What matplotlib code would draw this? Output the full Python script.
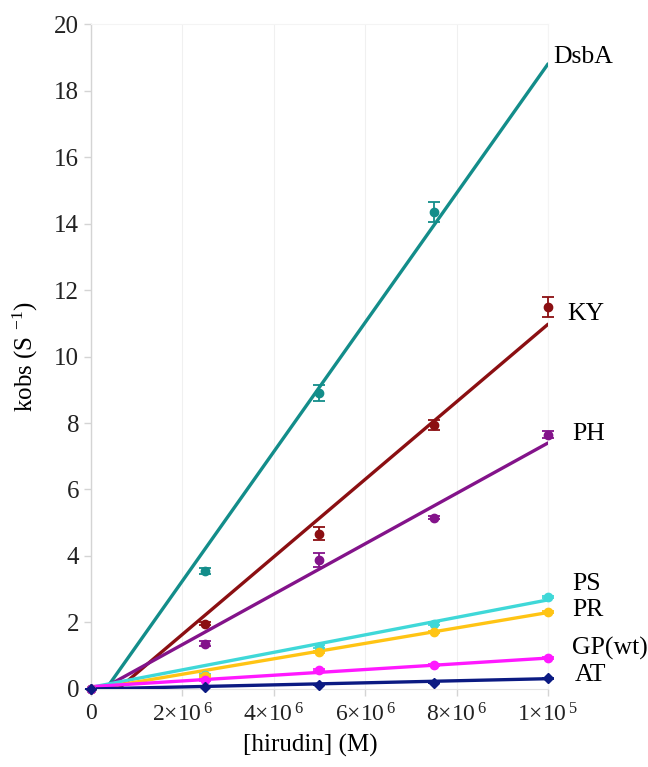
import numpy as np
import matplotlib
matplotlib.use("Agg")
import matplotlib.pyplot as plt

plt.rcParams['font.family'] = ['Liberation Serif', 'DejaVu Serif']
plt.rcParams['mathtext.default'] = 'regular'

# hirudin concentration (M)
conc = [0, 2.5e-6, 5e-6, 7.5e-6, 1e-5]

names = ['DsbA', 'KY', 'PH', 'PS', 'PR', 'GP(wt)', 'AT']
colors = ['#138d8a', '#8b0f12', '#83138a', '#3fd8d8', '#ffc414', '#ff19ff', '#0b1a82']
markers = ['o', 'o', 'o', 'o', 'o', 'o', 'D']

kobs = {
    'DsbA': [0, 3.55, 8.9, 14.35],
    'KY': [0, 1.96, 4.67, 7.95, 11.5],
    'PH': [0, 1.36, 3.88, 5.15, 7.65],
    'PS': [0, 0.42, 1.27, 1.96, 2.77],
    'PR': [0, 0.38, 1.10, 1.72, 2.32],
    'GP(wt)': [0, 0.27, 0.57, 0.72, 0.93],
    'AT': [0, 0.06, 0.12, 0.18, 0.32],
}
kobs_err = {
    'DsbA': [0, 0.08, 0.25, 0.3],
    'KY': [0, 0.05, 0.2, 0.15, 0.3],
    'PH': [0, 0.08, 0.2, 0.05, 0.1],
    'PS': [0, 0.03, 0.04, 0.04, 0.04],
    'PR': [0, 0.03, 0.03, 0.03, 0.03],
    'GP(wt)': [0, 0.02, 0.03, 0.03, 0.03],
    'AT': [0, 0.01, 0.01, 0.01, 0.01],
}
# linear fits: kobs = slope * [hirudin] + intercept
slopes = [1.944e6, 1.166e6, 0.758e6, 0.263e6, 0.232e6, 0.086e6, 0.031e6]
intercepts = [-0.64, -0.69, -0.18, 0.05, -0.02, 0.07, 0.0]

# label positions at the right of the plot
label_x = [1.011e-5, 1.042e-5, 1.053e-5, 1.053e-5, 1.053e-5, 1.053e-5, 1.059e-5]
label_y = [19.0, 11.27, 7.68, 3.16, 2.38, 1.23, 0.42]

fig = plt.figure(figsize=(6.48, 7.67), dpi=100)
ax = fig.add_axes([0.1404, 0.1017, 0.7053, 0.867])

xs = np.array([0, 1e-5])
for i, n in enumerate(names):
    c = colors[i]
    x = conc[:len(kobs[n])]
    ax.plot(xs, slopes[i] * xs + intercepts[i], color=c, lw=2.4, zorder=3 + i * 0.1,
            solid_capstyle='round')
    ax.errorbar(x, kobs[n], yerr=kobs_err[n], fmt=markers[i], color=c,
                ms=6 if markers[i] == 'o' else 5.5, elinewidth=1.3, capsize=4.5,
                capthick=1.3, zorder=4 + i * 0.1, clip_on=False)
    ax.text(label_x[i], label_y[i], n, fontsize=18.5, va='center', ha='left',
            clip_on=False)

ax.set_xlim(0, 1e-5)
ax.set_ylim(0, 20)
ax.set_yticks(range(0, 21, 2))
ax.set_yticklabels([str(v) for v in range(0, 21, 2)], fontsize=18)
ax.set_xticks([0, 2e-6, 4e-6, 6e-6, 8e-6, 1e-5])
ax.set_xticklabels(['0', '2×10$^{\\,6}$', '4×10$^{\\,6}$', '6×10$^{\\,6}$', '8×10$^{\\,6}$',
                    '1×10$^{\\,5}$'], fontsize=17)

ax.grid(axis='x', color='#f0f0f0', lw=0.8, zorder=0)
for s in ['top', 'right']:
    ax.spines[s].set_color('#f4f4f4')
ax.spines['left'].set_color('#d4d4d4')
ax.spines['left'].set_linewidth(1.0)
ax.spines['bottom'].set_color('#e4e4e4')
ax.tick_params(axis='both', colors='#d4d4d4', labelcolor='#222222', length=5, width=1)
ax.tick_params(axis='x', pad=5)

ax.set_xlabel('[hirudin] (M)', fontsize=18)
ax.xaxis.set_label_coords(0.48, -0.068)
ax.set_ylabel('kobs (S $^{-1}$)', fontsize=18, labelpad=10)

fig.savefig('out.png', dpi=100)
